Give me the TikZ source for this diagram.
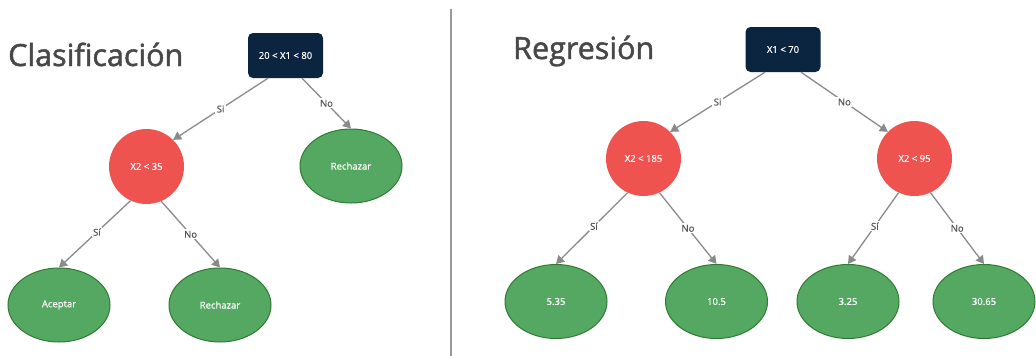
\documentclass[tikz,border=0pt]{standalone}
\usepackage{fontspec}
\setmainfont{Open Sans}
\newfontfamily\headfont[FakeBold=1.6]{Open Sans}
\newfontfamily\tagfont[FakeBold=0.6]{Open Sans}
\usetikzlibrary{arrows.meta,shapes.geometric}

\definecolor{navy}{HTML}{0B2540}
\definecolor{splitred}{HTML}{EF5350}
\definecolor{leafgreen}{HTML}{55A862}
\definecolor{leafedge}{HTML}{2E7B32}
\definecolor{edgegray}{HTML}{8A8A8A}
\definecolor{titlegray}{HTML}{484848}
\definecolor{labelgray}{HTML}{555555}
\definecolor{rulegray}{HTML}{9A9A9A}

\begin{document}
\begin{tikzpicture}[x=1pt,y=-1pt,
  small/.style={font=\tagfont\fontsize{9.5}{11}\selectfont},
  rootbox/.style={rectangle, rounded corners=5pt, fill=navy, minimum width=75pt,
    minimum height=45pt, inner sep=0pt, text=white, small},
  split/.style={circle, fill=splitred, minimum size=75pt, inner sep=0pt,
    text=white, small},
  leaf/.style={ellipse, fill=leafgreen, draw=leafedge, line width=1pt,
    minimum width=102pt, minimum height=74pt, inner sep=0pt, text=white, small},
  link/.style={draw=edgegray, line width=1.3pt, -{Triangle[length=8pt,width=9pt]}},
  lab/.style={fill=white, inner sep=1.5pt, text=labelgray, small},
  title/.style={anchor=base west, inner sep=0pt, text=titlegray,
    font=\headfont\fontsize{30.5}{36}\selectfont},
]
\useasboundingbox (0,0) rectangle (1036,356);

% section titles
\node[title] (tclass) at (8,66) {Clasificación};
\node[title] (treg) at (513,59) {Regresión};

% vertical separator
\coordinate (divtop) at (451,9);
\coordinate (divbot) at (451,356);
\draw[rulegray, line width=1.5pt] (divtop) -- (divbot);

% classification tree
\node[rootbox] (c0) at (285.5,55.5) {20 < X1 < 80};
\node[split] (c1) at (146.5,166.5) {X2 < 35};
\node[leaf] (c2) at (351,166) {Rechazar};
\node[leaf] (c3) at (59,305) {Aceptar};
\node[leaf] (c4) at (220,305) {Rechazar};

\draw[link] ([xshift=-17.5pt]c0.south) -- node[lab] {Si} (c1.45);
\draw[link] ([xshift=16.5pt]c0.south) -- node[lab] {No} (c2.north);
\draw[link] (c1.245) -- node[lab, pos=0.47] {Sí} (c3.north);
\draw[link] (c1.293) -- node[lab] {No} (c4.north);

% regression tree
\node[rootbox] (r0) at (783,49.5) {X1 < 70};
\node[split] (r1) at (643.5,158.5) {X2 < 185};
\node[split] (r2) at (914.5,158.5) {X2 < 95};
\node[leaf] (r3) at (556,301.5) {5.35};
\node[leaf] (r4) at (716.5,301.5) {10.5};
\node[leaf] (r5) at (848,301.5) {3.25};
\node[leaf] (r6) at (984,301.5) {30.65};

\draw[link] ([xshift=-18pt]r0.south) -- node[lab] {Si} (r1.45);
\draw[link] ([xshift=18pt]r0.south) -- node[lab] {No} (r2.135);
\draw[link] (r1.245) -- node[lab, pos=0.47] {Sí} (r3.north);
\draw[link] (r1.295) -- node[lab] {No} (r4.north);
\draw[link] (r2.245) -- node[lab, pos=0.47] {Sí} (r5.north);
\draw[link] (r2.295) -- node[lab] {No} (r6.north);
\end{tikzpicture}
\end{document}
